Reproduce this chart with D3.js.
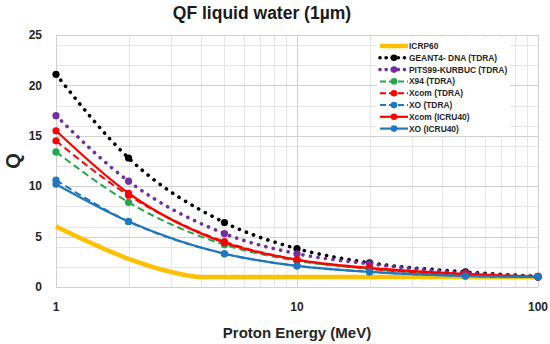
<!DOCTYPE html>
<html>
<head>
<meta charset="utf-8">
<script src="https://cdn.jsdelivr.net/npm/d3@7"></script>
<style>
  html, body { margin: 0; padding: 0; background: #fff; }
  svg { display: block; font-family: "Liberation Sans", Arial, sans-serif; }
</style>
</head>
<body>
<div id="chart"></div>
<script>
// proton energies (MeV) for the TDRA / ICRU40 series
const energies = [1, 2, 5, 10, 20, 50, 100];
// ICRP60 curve has its own energy grid
const icrpEnergies = [1, 2, 3, 4, 5, 10, 20, 50, 100];
const icrp60 = [6.0, 2.8, 1.5, 1.0, 1.0, 1.0, 1.0, 1.0, 1.0];

const geant4 = [21.1, 12.8, 6.4, 3.8, 2.4, 1.5, 1.05];
const pits99 = [17.0, 10.5, 5.3, 3.3, 2.3, 1.4, 1.05];
const x94 = [13.4, 8.4, 4.2, 2.6, 1.8, 1.2, 1.0];
const xcomTdra = [14.5, 9.1, 4.5, 2.7, 1.8, 1.2, 1.0];
const xoTdra = [10.6, 6.5, 3.3, 2.1, 1.5, 1.1, 1.0];
const xcomIcru = [15.5, 9.3, 4.4, 2.7, 1.9, 1.3, 1.0];
const xoIcru = [10.2, 6.5, 3.3, 2.1, 1.5, 1.1, 1.0];

const xTicks = [1, 10, 100];
const yTicks = [0, 5, 10, 15, 20, 25];
const yMinorTicks = [2, 4, 6, 8, 12, 14, 16, 18, 22, 24];

const series = [
  {name: "ICRP60", xs: icrpEnergies, ys: icrp60, color: "#ffc000", width: 4.5, dash: null, marker: false},
  {name: "GEANT4- DNA (TDRA)", xs: energies, ys: geant4, color: "#000000", width: 3.6, dash: "0.1 7.5", marker: true},
  {name: "PITS99-KURBUC (TDRA)", xs: energies, ys: pits99, color: "#7030a0", width: 3.6, dash: "0.1 7.5", marker: true},
  {name: "X94 (TDRA)", xs: energies, ys: x94, color: "#22a84a", width: 2, dash: "7 4", marker: true},
  {name: "Xcom (TDRA)", xs: energies, ys: xcomTdra, color: "#ff0000", width: 2, dash: "7 4", marker: true},
  {name: "XO (TDRA)", xs: energies, ys: xoTdra, color: "#1f77c0", width: 2, dash: "7 4", marker: true},
  {name: "Xcom (ICRU40)", xs: energies, ys: xcomIcru, color: "#ff0000", width: 2.2, dash: null, marker: true},
  {name: "XO (ICRU40)", xs: energies, ys: xoIcru, color: "#1f77c0", width: 2.2, dash: null, marker: true}
];

const width = 550, height = 344;
const margin = {top: 35, right: 12, bottom: 57, left: 56};

const x = d3.scaleLog()
    .domain([1, 100])
    .range([margin.left, width - margin.right]);

const y = d3.scaleLinear()
    .domain([0, 25])
    .range([height - margin.bottom, margin.top]);

const svg = d3.select("#chart").append("svg")
    .attr("width", width)
    .attr("height", height)
    .attr("viewBox", [0, 0, width, height]);

// grid
const minorX = x.ticks().filter(d => !xTicks.includes(d));

svg.append("g")
    .attr("stroke", "#e6e6e6")
    .attr("stroke-width", 1)
  .call(g => g.selectAll("line.vx")
    .data(minorX)
    .join("line")
      .attr("x1", d => Math.round(x(d)) + 0.5)
      .attr("x2", d => Math.round(x(d)) + 0.5)
      .attr("y1", y(25))
      .attr("y2", y(0)))
  .call(g => g.selectAll("line.hy")
    .data(yMinorTicks)
    .join("line")
      .attr("x1", x(1))
      .attr("x2", x(100))
      .attr("y1", d => Math.round(y(d)) + 0.5)
      .attr("y2", d => Math.round(y(d)) + 0.5));

svg.append("g")
    .attr("stroke", "#d0d0d0")
    .attr("stroke-width", 1)
  .call(g => g.selectAll("line.vx")
    .data(xTicks)
    .join("line")
      .attr("x1", d => Math.round(x(d)) + 0.5)
      .attr("x2", d => Math.round(x(d)) + 0.5)
      .attr("y1", y(25))
      .attr("y2", y(0)))
  .call(g => g.selectAll("line.hy")
    .data(yTicks)
    .join("line")
      .attr("x1", x(1))
      .attr("x2", x(100))
      .attr("y1", d => Math.round(y(d)) + 0.5)
      .attr("y2", d => Math.round(y(d)) + 0.5));

// tick labels
svg.append("g")
    .attr("font-size", 12)
    .attr("font-weight", "bold")
    .attr("fill", "#262626")
    .attr("text-anchor", "end")
  .selectAll("text")
  .data(yTicks)
  .join("text")
    .attr("x", 42)
    .attr("y", d => y(d))
    .attr("dy", "0.35em")
    .text(d => d);

svg.append("g")
    .attr("font-size", 12)
    .attr("font-weight", "bold")
    .attr("fill", "#262626")
    .attr("text-anchor", "middle")
  .selectAll("text")
  .data(xTicks)
  .join("text")
    .attr("x", d => x(d))
    .attr("y", 311)
    .text(d => d);

// titles
svg.append("text")
    .attr("x", 262)
    .attr("y", 19)
    .attr("text-anchor", "middle")
    .attr("font-size", 17.5)
    .attr("font-weight", "bold")
    .attr("fill", "#1a1a1a")
    .text("QF liquid water (1µm)");

svg.append("text")
    .attr("x", 297)
    .attr("y", 338)
    .attr("text-anchor", "middle")
    .attr("font-size", 15)
    .attr("font-weight", "bold")
    .attr("fill", "#262626")
    .text("Proton Energy (MeV)");

svg.append("text")
    .attr("transform", `translate(20,${y(12.5)}) rotate(-90)`)
    .attr("text-anchor", "middle")
    .attr("font-size", 20)
    .attr("font-weight", "bold")
    .attr("fill", "#262626")
    .text("Q");

// lines
const line = d3.line()
    .x(d => x(d[0]))
    .y(d => y(d[1]))
    .curve(d3.curveMonotoneX);

const lines = svg.append("g");

series.forEach(s => {
  const pts = s.xs.map((e, i) => [e, s.ys[i]]);
  lines.append("path")
      .datum(pts)
      .attr("fill", "none")
      .attr("stroke", s.color)
      .attr("stroke-width", s.width)
      .attr("stroke-linecap", s.dash && s.dash.startsWith("0.1") ? "round" : "butt")
      .attr("stroke-dasharray", s.dash)
      .attr("d", line);
  if (s.marker) {
    lines.append("g")
        .attr("fill", s.color)
      .selectAll("circle")
      .data(pts)
      .join("circle")
        .attr("cx", d => x(d[0]))
        .attr("cy", d => y(d[1]))
        .attr("r", 3.6);
  }
});

// legend
const legend = svg.append("g")
    .attr("transform", "translate(377,38)");

legend.append("rect")
    .attr("width", 133)
    .attr("height", 98)
    .attr("fill", "#fff");

const item = legend.selectAll("g")
  .data(series)
  .join("g")
    .attr("transform", (d, i) => `translate(0,${8 + i * 11.8})`);

item.append("line")
    .attr("x1", 3)
    .attr("x2", 31)
    .attr("stroke", d => d.color)
    .attr("stroke-width", d => d.width)
    .attr("stroke-linecap", d => d.dash && d.dash.startsWith("0.1") ? "round" : "butt")
    .attr("stroke-dasharray", d => d.dash ? (d.dash.startsWith("0.1") ? "0.1 6" : "6 3") : null);

item.filter(d => d.marker).append("circle")
    .attr("cx", 17)
    .attr("r", 3.3)
    .attr("fill", d => d.color);

item.append("text")
    .attr("x", 32)
    .attr("dy", "0.35em")
    .attr("font-size", 8.4)
    .attr("font-weight", "bold")
    .attr("fill", "#262626")
    .text(d => d.name);
</script>
</body>
</html>
